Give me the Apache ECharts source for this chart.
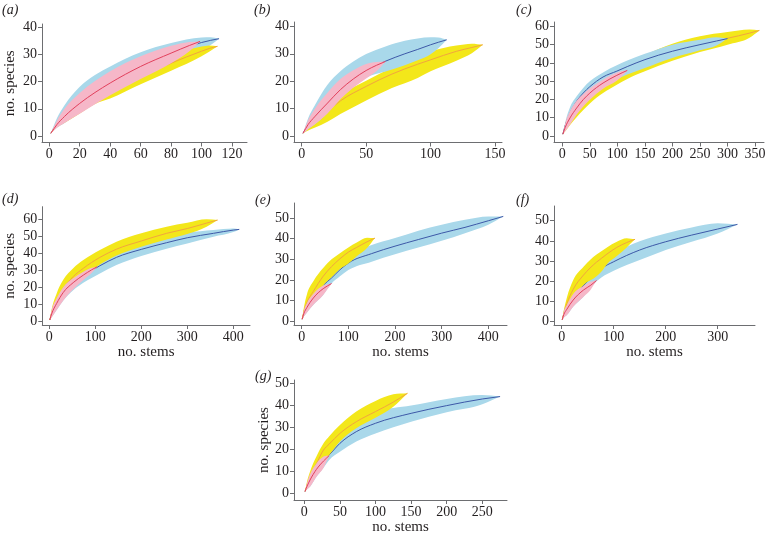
<!DOCTYPE html>
<html><head><meta charset="utf-8">
<script src="https://cdn.jsdelivr.net/npm/echarts@6/dist/echarts.min.js"></script>
<style>html,body{margin:0;padding:0;background:#fff}#c{width:766px;height:536px}</style>
</head><body><div id="c"></div>
<script>
// rows: [no. stems, lower bound, mean, upper bound] of no. species
const aPink   = [[1,1,1,1],[5,3,4.2,5.6],[10,4.8,7.2,10],[20,8.2,12,15.8],[30,11.7,16,20.2],[40,15,19.5,23.8],[60,21,25.6,29.3],[80,26.8,30.5,33.2],[92,31.2,33.3,34.6],[99,34.8,34.8,34.8]];
const aBlue   = [[1,1,1,1],[5,3,4.3,6.5],[10,4.8,7.3,11.3],[20,8.5,12.3,18.1],[30,12,16.2,22.4],[40,15.5,19.6,25.6],[60,21.5,25.6,30.8],[80,27.2,30.4,34.2],[100,31.5,34.4,36.2],[106,33.5,35.2,36.3],[111.5,35.8,35.8,35.8]];
const aYellow = [[1,1,1,1],[5,3.2,3.8,5],[10,4.9,6.4,8.8],[20,8.3,10.8,14],[30,11.8,14,17],[40,13.8,16.8,19.8],[60,19,22,25],[80,24,26.8,29.6],[100,29.3,31.2,32.9],[105,31,32.2,33.3],[110.5,33,33,33]];

const bPink   = [[1,1,1,1],[5,2.6,4.2,5.8],[10,4.2,7,9.8],[20,8.2,12,15.8],[30,13.4,16.9,20.8],[40,17.6,20.8,24],[50,21,23.9,26.3],[58,23.6,25.8,27],[65,27.2,27.2,27.2]];
const bBlue   = [[1,1,1,1],[5,2.6,4.3,6.5],[10,4.2,7.1,11],[20,8.4,12.2,18.7],[30,13.6,17.1,23.6],[40,18,21,27.2],[50,21.3,24.1,29.9],[65,23.5,27.3,32.7],[80,25.8,30,34.8],[90,27.6,31.6,35.6],[100,29.8,33.3,36],[106,32,34.2,35.9],[112.5,35.1,35.1,35.1]];
const bYellow = [[1,1,1,1],[5,2,3,4.2],[10,3,5.2,7.2],[20,5.2,9,11.2],[30,8,12.8,15],[50,13,18.1,20.2],[70,17.5,22.6,25],[90,21.2,26.2,29.2],[100,23.6,27.8,30.9],[120,27.5,30.9,33],[132,30.2,32.3,33.7],[140.5,33.3,33.3,33.3]];

const cPink   = [[1,1,1,1],[5,2.5,4.5,6.5],[14,6.2,9.9,13.5],[26,11.7,15.3,19.3],[38,16.2,19.9,23],[50,19.9,23.5,26],[74,25.9,29,30.8],[99,30.2,33.2,34.7],[110,33.2,34.8,35.7],[118,35.9,35.9,35.9]];
const cBlue   = [[1,1,1,1],[5,3,5.5,7],[14,7,12.5,15.7],[26,12.5,19,21.7],[38,17,23.5,26.3],[50,20.5,27,29.9],[74,26.5,32.3,34.8],[99,31,35.5,38.7],[118,33.6,38,41.3],[150,37.2,41.8,45],[200,42.7,46.4,50],[250,46.9,50,52.7],[280,49.5,52,54],[300,53.3,53.3,53.3]];
const cYellow = [[1,1,1,1],[5,2.4,4.5,6.3],[14,6,10.5,13],[26,10.2,16,19],[38,14.2,20.5,23.5],[50,17.8,24,27],[74,23.5,29.3,32.5],[99,28,33.8,37],[118,31.2,36.2,40],[150,35.4,40.5,44.3],[200,41.2,46,50.5],[250,46,50.2,54.6],[300,50,53.5,56.9],[340,53.8,56.3,58.3],[358,57.8,57.8,57.8]];

const dPink   = [[1,1,1,1],[5,2.5,4.5,6.5],[16,6.8,10.7,13.7],[30,12.3,17,20.1],[52,19,22.9,25.4],[74,24.5,27.3,29.3],[92,28.5,30.4,31.6],[104,32.2,32.2,32.2]];
const dBlue   = [[1,1,1,1],[5,2.5,4.6,6.6],[16,6.8,10.5,13.5],[30,12.3,16.8,20],[52,18.5,22.6,26],[74,22.8,26.9,31],[110,28.3,32.8,37.3],[146,33.2,37.7,42],[200,38.5,42.4,46.3],[255,42.8,46.3,49.8],[300,45.9,49.2,52.2],[357,49.8,51.8,53.8],[400,52.5,53.7,54.6],[413,54.1,54.1,54.1]];
const dYellow = [[1,1,1,1],[5,2.8,5,7],[16,8,12,16.6],[30,14,19,24.4],[52,21,26.4,31.3],[74,26,31.3,36.1],[110,33.5,37.7,42],[146,38.8,42.5,46.9],[200,44,47.3,51.8],[255,48.2,51.8,55.7],[300,51.4,54.6,58],[342,55.7,57.8,60],[366,59.6,59.6,59.6]];

const ePink   = [[1,1,1,1],[5,2.5,4,5.5],[11,4.2,6.6,8.8],[25,8,11.3,13.3],[46,12.8,15.8,17.3],[64,18.3,18.3,18.3]];
const eYellow = [[1,1,1,1],[5,2.8,5,7],[11,6,9,12.9],[25,11,14.5,19.4],[46,17.4,21.8,25.8],[64,21.3,26.5,30],[82,25.3,30.3,33],[100,28,33.5,35.8],[118,31.5,35.8,38.2],[140,35.5,38.5,40.5],[157,40.3,40.3,40.3]];
const eBlue   = [[1,1,1,1],[5,2.5,4.3,6],[11,4.2,7.5,10],[25,8,12.8,16.5],[46,12.8,17.5,22.5],[64,18.3,21,26],[82,21.8,25,29.5],[100,24.8,28.2,32.3],[150,28.9,32.8,37],[200,32.5,36.4,40.3],[250,35.7,39.6,43.9],[300,39,42.7,46.8],[350,42.7,45.5,49.2],[400,46.8,48.7,50.8],[432,50.8,50.8,50.8]];

const fPink   = [[1,1,1,1],[4,2,3.5,5],[10,3.3,6.2,8.3],[22,7.4,10.7,13.7],[42,12.4,15.7,17.7],[56,16,18.1,19.8],[67,20.4,20.4,20.4]];
const fYellow = [[1,1,1,1],[4,2.3,4,5.5],[10,6,9,12],[22,12,16,20.5],[42,18.2,23.1,27.2],[67,22.5,29.5,33.3],[77,25,31.5,35],[87,28.5,33.5,36.8],[106,32.5,36.8,39.6],[125,36.8,39.2,41.3],[141,40.8,40.8,40.8]];
const fBlue   = [[1,1,1,1],[4,2,3.6,5.5],[10,3.3,6.5,9],[22,7.4,12,16],[42,12.4,18,22],[67,20,24,28.5],[77,22,26.4,30.5],[100,25.2,29.7,34],[150,30.5,35.5,39.9],[200,35.5,39.6,43.7],[250,39.6,42.9,46.7],[300,43.7,45.9,48.7],[338,48.2,48.2,48.2]];

const gPink   = [[1,1,1,1],[4,2,3.5,5],[8,3.2,6.2,8.8],[17,7.7,11,13.7],[27,11.8,14.8,16.8],[35,17.3,17.3,17.3]];
const gYellow = [[1,1,1,1],[4,2.3,4,5.8],[8,4.5,7.5,10],[17,9.5,13.5,16.8],[27,14,19.8,22.8],[35,17.5,22.5,26],[50,23.6,27.3,31.1],[73,29.6,32.6,37.2],[100,34.4,37.2,42],[125,39.4,41.5,45],[145,45.5,45.5,45.5]];
const gBlue   = [[1,1,1,1],[4,2,3.5,5],[8,3.2,6.2,8.8],[17,7.7,11.2,14],[27,11.8,15,18],[35,15.3,17.6,21],[50,19,22.8,28],[73,23.6,28.1,33],[100,27.3,31.9,37],[150,32.6,36.4,39.9],[200,36.9,39.9,42.9],[250,40.5,42.9,44.7],[275,44,44,44]];

// tick labels
const aXTicks = [0,20,40,60,80,100,120], aYTicks = [0,10,20,30,40];
const bXTicks = [0,50,100,150],          bYTicks = [0,10,20,30,40];
const cXTicks = [0,50,100,150,200,250,300,350], cYTicks = [0,10,20,30,40,50,60];
const dXTicks = [0,100,200,300,400],     dYTicks = [0,10,20,30,40,50,60];
const eXTicks = [0,100,200,300,400],     eYTicks = [0,10,20,30,40,50];
const fXTicks = [0,100,200,300],         fYTicks = [0,10,20,30,40,50];
const gXTicks = [0,50,100,150,200,250],  gYTicks = [0,10,20,30,40,50];

const COLORS = {
  pink:   {band:'#f6b7c8', line:'#e2405c'},
  blue:   {band:'#a9d8ea', line:'#3d58a8'},
  yellow: {band:'#f3e71a', line:'#f2a53e'}
};
const FONT = '"Liberation Serif", "Times New Roman", serif';
const AX = '#6d6e71', TXT = '#231f20';

const panels = [
  {L:'(a)', lx:2,   ly:3,   grid:[42,24,205,118.5],  x:[-4.79,129.85], y:[-2.39,41.21], xt:aXTicks, yt:aYTicks, s:{pink:aPink, blue:aBlue, yellow:aYellow}, yName:24.5},
  {L:'(b)', lx:254, ly:3,   grid:[294,22,208,120.5], x:[-5.98,155.4],  y:[-2.37,41.6],  xt:bXTicks, yt:bYTicks, s:{pink:bPink, blue:bBlue, yellow:bYellow}},
  {L:'(c)', lx:516, ly:3,   grid:[554,22,210,120.5], x:[-15.1,366.3],  y:[-3.56,62.4],  xt:cXTicks, yt:cYTicks, s:{pink:cPink, blue:cBlue, yellow:cYellow}},
  {L:'(d)', lx:2,   ly:192, grid:[42.3,206.7,207.7,118.3], x:[-15.2,436.3], y:[-1.93,67.4], xt:dXTicks, yt:dYTicks, s:{pink:dPink, blue:dBlue, yellow:dYellow}, yName:24.5, xName:true},
  {L:'(e)', lx:255, ly:193, grid:[294,203,213,122],  x:[-16.5,440],    y:[-1.79,57.3],  xt:eXTicks, yt:eYTicks, s:{pink:ePink, blue:eBlue, yellow:eYellow}, xName:true},
  {L:'(f)', lx:516, ly:193, grid:[554,206,201,119],  x:[-14.8,371.7],  y:[-1.63,57.3],  xt:fXTicks, yt:fYTicks, s:{pink:fPink, blue:fBlue, yellow:fYellow}, xName:true},
  {L:'(g)', lx:255, ly:369, grid:[294,380,213,120],  x:[-14.5,284.7],  y:[-2.85,51.5],  xt:gXTicks, yt:gYTicks, s:{pink:gPink, blue:gBlue, yellow:gYellow}, yName:21, xName:true}
];

function axisCommon(ticks){
  return {
    type:'value',
    axisLine:{show:true, onZero:false, lineStyle:{color:AX, width:1}},
    axisTick:{show:true, length:4, customValues:ticks, lineStyle:{color:AX, width:1}},
    axisLabel:{customValues:ticks, margin:5, fontFamily:FONT, fontSize:14, color:TXT},
    splitLine:{show:false},
    nameLocation:'middle',
    nameTextStyle:{fontFamily:FONT, fontSize:15, color:TXT}
  };
}

// monotone cubic (Fritsch-Carlson) bezier segments through pixel points, x increasing
function monoSegs(p){
  const n = p.length, h = [], d = [], m = new Array(n);
  for (let i = 0; i < n - 1; i++) { h[i] = p[i+1][0] - p[i][0]; d[i] = (p[i+1][1] - p[i][1]) / h[i]; }
  m[0] = d[0]; m[n-1] = d[n-2];
  for (let i = 1; i < n - 1; i++) {
    m[i] = (d[i-1] * d[i] <= 0) ? 0 : (d[i-1] * h[i] + d[i] * h[i-1]) / (h[i-1] + h[i]);
  }
  for (let i = 0; i < n - 1; i++) {
    if (d[i] === 0) { m[i] = 0; m[i+1] = 0; continue; }
    const a = m[i] / d[i], b = m[i+1] / d[i], s = a*a + b*b;
    if (s > 9) { const t = 3 / Math.sqrt(s); m[i] = t*a*d[i]; m[i+1] = t*b*d[i]; }
  }
  const segs = [];
  for (let i = 0; i < n - 1; i++) {
    const k = h[i] / 3;
    segs.push([p[i], [p[i][0] + k, p[i][1] + m[i]*k], [p[i+1][0] - k, p[i+1][1] - m[i+1]*k], p[i+1]]);
  }
  return segs;
}
function f(v){ return v.toFixed(2); }
function bandPath(up, lo){
  const su = monoSegs(up), sl = monoSegs(lo);
  let s = 'M' + f(up[0][0]) + ' ' + f(up[0][1]);
  su.forEach(g => { s += ' C' + f(g[1][0]) + ' ' + f(g[1][1]) + ' ' + f(g[2][0]) + ' ' + f(g[2][1]) + ' ' + f(g[3][0]) + ' ' + f(g[3][1]); });
  for (let i = sl.length - 1; i >= 0; i--) {
    const g = sl[i];
    s += ' C' + f(g[2][0]) + ' ' + f(g[2][1]) + ' ' + f(g[1][0]) + ' ' + f(g[1][1]) + ' ' + f(g[0][0]) + ' ' + f(g[0][1]);
  }
  return s + ' Z';
}
function linePath(pts){
  const sg = monoSegs(pts);
  let s = 'M' + f(pts[0][0]) + ' ' + f(pts[0][1]);
  sg.forEach(g => { s += ' C' + f(g[1][0]) + ' ' + f(g[1][1]) + ' ' + f(g[2][0]) + ' ' + f(g[2][1]) + ' ' + f(g[3][0]) + ' ' + f(g[3][1]); });
  return s;
}

const grids = [], xAxes = [], yAxes = [], series = [], graphics = [];
panels.forEach((p, i) => {
  grids.push({left:p.grid[0], top:p.grid[1], width:p.grid[2], height:p.grid[3], outerBoundsMode:'none', containLabel:false});
  xAxes.push(Object.assign(axisCommon(p.xt), {gridIndex:i, min:p.x[0], max:p.x[1], name:p.xName ? 'no. stems' : '', nameGap:20}));
  yAxes.push(Object.assign(axisCommon(p.yt), {gridIndex:i, min:p.y[0], max:p.y[1], name:p.yName ? 'no. species' : '', nameGap:p.yName || 20, nameRotate:90}));
  graphics.push({type:'text', left:p.lx, top:p.ly, style:{text:p.L, font:'italic 14px ' + FONT, fill:TXT}});
  // larger samples drawn first, smaller on top
  const kinds = Object.keys(p.s).sort((k1, k2) => p.s[k2][p.s[k2].length-1][0] - p.s[k1][p.s[k1].length-1][0]);
  kinds.forEach((k, L) => {
    const rows = p.s[k];
    series.push({
      type:'custom', xAxisIndex:i, yAxisIndex:i, silent:true, animation:false, z:2 + 2*L,
      data:[[rows[0][0], rows[0][2]]],
      renderItem:(params, api) => {
        const up = rows.map(r => api.coord([r[0], r[3]]));
        const lo = rows.map(r => api.coord([r[0], r[1]]));
        const md = rows.map(r => api.coord([r[0], r[2]]));
        return {type:'group', children:[
          {type:'path', shape:{pathData:bandPath(up, lo)}, style:{fill:COLORS[k].band, stroke:null}},
          {type:'path', shape:{pathData:linePath(md)}, style:{fill:null, stroke:COLORS[k].line, lineWidth:1}}
        ]};
      }
    });
  });
});

const chart = echarts.init(document.getElementById('c'), null, {renderer:'canvas'});
chart.setOption({
  animation:false,
  backgroundColor:'#fff',
  grid:grids, xAxis:xAxes, yAxis:yAxes, series:series, graphic:graphics
});
</script></body></html>
